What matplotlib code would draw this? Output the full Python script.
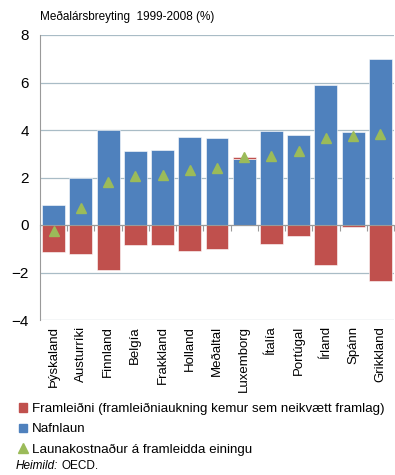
import matplotlib
matplotlib.use('Agg')
import matplotlib.pyplot as plt
import numpy as np
from matplotlib.lines import Line2D
from matplotlib.patches import Patch

plt.rcParams['font.family'] = ['Liberation Sans', 'DejaVu Sans']

countries = ['Þýskaland', 'Austurríki', 'Finnland', 'Belgía', 'Frakkland', 'Holland',
             'Meðaltal', 'Luxemborg', 'Ítalía', 'Portúgal', 'Írland', 'Spánn', 'Grikkland']
nafnlaun = [0.85, 2.0, 4.0, 3.1, 3.15, 3.7, 3.68, 2.8, 3.95, 3.78, 5.9, 3.9, 7.0]
framleidni = [-1.15, -1.2, -1.9, -0.85, -0.85, -1.1, -1.0, 0.06, -0.8, -0.45, -1.7, -0.1, -2.35]
launakostn = [-0.25, 0.7, 1.8, 2.05, 2.1, 2.3, 2.4, 2.85, 2.9, 3.1, 3.65, 3.75, 3.85]

blue = '#4F81BD'
red = '#C0504D'
green = '#9BBB59'

fig = plt.figure(figsize=(3.95, 4.75), dpi=100)
ax = fig.add_axes([40/395, 1-320/475, 354/395, 285/475])

x = np.arange(len(countries))
nl = np.array(nafnlaun)
fr = np.array(framleidni)
# positive productivity values stack on top of wages, negative ones hang below zero
fr_bottom = np.where(fr > 0, nl, 0)

ax.bar(x, nl, width=0.84, color=blue, edgecolor='white', linewidth=0.4, zorder=3)
ax.bar(x, fr, bottom=fr_bottom, width=0.84, color=red, edgecolor='white', linewidth=0.4, zorder=3)
ax.plot(x, launakostn, linestyle='none', marker='^', markersize=7.5, color=green, zorder=4)

ax.set_xlim(-0.5, len(countries) - 0.5)
ax.set_ylim(-4, 8)
ax.set_yticks(range(-4, 9, 2))
ax.tick_params(axis='y', length=0, labelsize=11, pad=8)
ax.grid(axis='y', color='#A9BCC6', linewidth=0.9, zorder=0)

for s in ['top', 'right']:
    ax.spines[s].set_visible(False)
ax.spines['left'].set_color('#9A9A9A')
ax.spines['bottom'].set_position(('data', 0))
ax.spines['bottom'].set_color('#9A9A9A')
ax.spines['bottom'].set_zorder(5)

ax.set_xticks(np.arange(len(countries) + 1) - 0.5)
ax.set_xticklabels([])
ax.tick_params(axis='x', direction='out', length=4, color='#9A9A9A')

for xi, name in zip(x, countries):
    ax.text(xi, -4.25, name, rotation=90, ha='center', va='top', fontsize=9.5)

fig.text(40/395, 1-17/475, 'Meðalársbreyting  1999-2008 (%)', fontsize=8.5, va='center')

handles = [Patch(color=red), Patch(color=blue),
           Line2D([], [], linestyle='none', marker='^', markersize=7.5, color=green)]
labels = ['Framleiðni (framleiðniaukning kemur sem neikvætt framlag)', 'Nafnlaun',
          'Launakostnaður á framleidda einingu']
fig.legend(handles, labels, loc='upper left', bbox_to_anchor=(19/395, 1-403/475),
           frameon=False, fontsize=9.6, handlelength=0.6, handleheight=0.6,
           handletextpad=0.35, labelspacing=0.62, borderaxespad=0, borderpad=0)

fig.text(16/395, 1-466/475, 'Heimild:', fontsize=8.5, style='italic', va='center')
fig.text(62/395, 1-466/475, 'OECD.', fontsize=8.5, va='center')

fig.savefig('out.png', dpi=100)
